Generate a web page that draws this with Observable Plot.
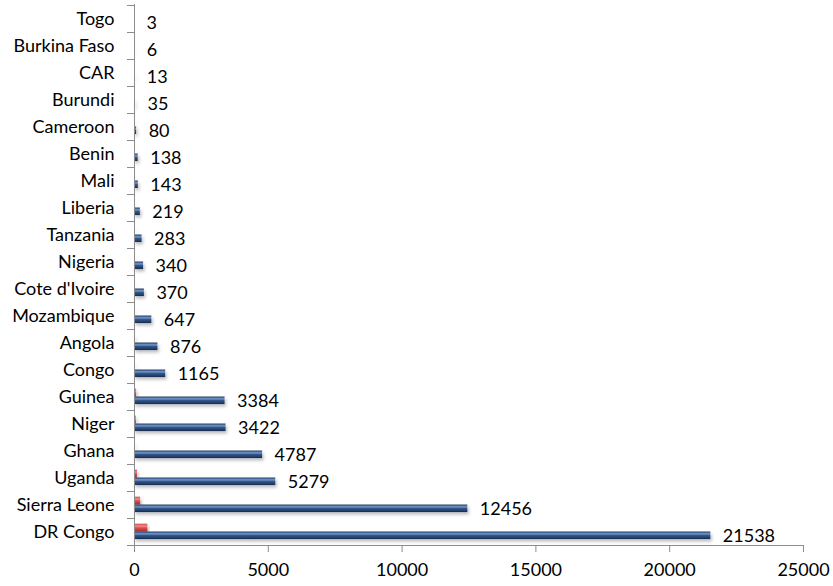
<!DOCTYPE html>
<html>
<head>
<meta charset="utf-8">
<script src="https://cdn.jsdelivr.net/npm/d3@7"></script>
<script src="https://cdn.jsdelivr.net/npm/@observablehq/plot@0.6"></script>
<style>
  html, body { margin: 0; padding: 0; background: #fff; }
  svg { display: block; }
</style>
</head>
<body>
<div id="chart"></div>
<script>
const countries = ["DR Congo","Sierra Leone","Uganda","Ghana","Niger","Guinea","Congo","Angola","Mozambique","Cote d'Ivoire","Nigeria","Tanzania","Liberia","Mali","Benin","Cameroon","Burundi","CAR","Burkina Faso","Togo"];
const cases  = [21538,12456,5279,4787,3422,3384,1165,876,647,370,340,283,219,143,138,80,35,13,6,3];
const deaths = [500,230,110,30,70,80,20,35,15,10,12,15,8,10,5,8,2,1,3,0];
const xTicks = [0,5000,10000,15000,20000,25000];

const rows = countries.map((c, i) => ({country: c, cases: cases[i], deaths: deaths[i]}));
const order = countries.slice().reverse();

const W = 833, H = 586;
const mt = 4, mb = 41, ml = 134, mr = 30;
const bw = (H - mt - mb) / countries.length;
const font = "Lato, 'Open Sans', sans-serif";
const gray = "#8c8c8c";

const chart = Plot.plot({
  width: W,
  height: H,
  marginTop: mt,
  marginBottom: mb,
  marginLeft: ml,
  marginRight: mr,
  style: {fontFamily: font, fontSize: "18px", color: "#000", background: "#fff"},
  x: {domain: [0, 25000], ticks: xTicks, label: null},
  y: {domain: order, padding: 0, label: null},
  marks: [
    Plot.barX(rows, {y: "country", x: "deaths", fill: "url(#redGrad)", insetTop: bw * 0.21, insetBottom: bw * 0.5}),
    Plot.barX(rows, {y: "country", x: "cases", fill: "url(#blueGrad)", insetTop: bw * 0.5, insetBottom: bw * 0.22}),
    Plot.text(rows, {y: "country", x: "cases", text: d => String(d.cases), textAnchor: "start", dx: 12, dy: 4, fontSize: 18, fill: "#000"}),
    Plot.frame({anchor: "left", stroke: gray}),
    Plot.frame({anchor: "bottom", stroke: gray}),
    Plot.axisX({ticks: xTicks, tickSize: 7, tickPadding: 11, stroke: gray, tickFormat: d => String(d), fontSize: 18, fill: "#000"}),
    Plot.axisY({tickSize: 0, tickPadding: 20, fontSize: 18, fill: "#000"}),
    Plot.axisY({tickSize: 7, text: null, stroke: gray, dy: bw / 2}),
    Plot.axisY({ticks: [order[0]], tickSize: 7, text: null, stroke: gray, dy: -bw / 2})
  ]
});

const svg = d3.select(chart);
const defs = svg.insert("defs", ":first-child");
const bg = defs.append("linearGradient").attr("id", "blueGrad").attr("x1", 0).attr("y1", 0).attr("x2", 0).attr("y2", 1);
[["0%", "#1d3659"], ["18%", "#4f73a8"], ["32%", "#7c9dd0"], ["48%", "#355b92"], ["80%", "#233f68"], ["100%", "#162b4a"]]
  .forEach(([o, c]) => bg.append("stop").attr("offset", o).attr("stop-color", c));
const rg = defs.append("linearGradient").attr("id", "redGrad").attr("x1", 0).attr("y1", 0).attr("x2", 0).attr("y2", 1);
[["0%", "#d84a48"], ["30%", "#f08a88"], ["55%", "#d9504c"], ["100%", "#a82a26"]]
  .forEach(([o, c]) => rg.append("stop").attr("offset", o).attr("stop-color", c));
const f = defs.append("filter").attr("id", "shadow").attr("x", "-5%").attr("y", "-50%").attr("width", "120%").attr("height", "250%");
f.append("feDropShadow").attr("dx", 1.5).attr("dy", 2.5).attr("stdDeviation", 1.5).attr("flood-color", "#000").attr("flood-opacity", 0.25);
svg.selectAll("g[aria-label='bar']").attr("filter", "url(#shadow)");

document.getElementById("chart").appendChild(chart);
</script>
</body>
</html>
